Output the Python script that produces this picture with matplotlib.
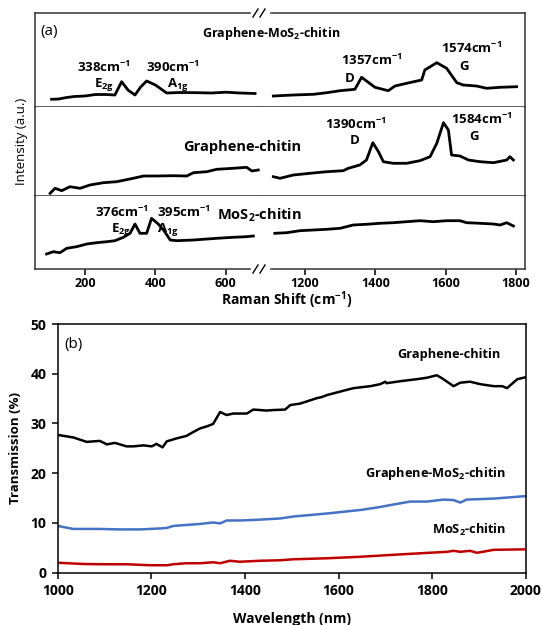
import numpy as np
import matplotlib.pyplot as plt

plt.rcParams['font.family'] = ['Open Sans', 'DejaVu Sans']
plt.rcParams['mathtext.fontset'] = 'custom'
plt.rcParams['mathtext.rm'] = 'Open Sans'
plt.rcParams['mathtext.bf'] = 'Open Sans:bold'
plt.rcParams['mathtext.it'] = 'Open Sans:italic'

# ---- (a) Raman spectra, low and high wavenumber parts ----
gm_low_x = [105, 125, 148, 170, 200, 230, 260, 285, 304, 322, 342, 358, 375, 400, 432, 470, 520, 560, 600, 640, 683]
gm_low_y = [7.7, 8.0, 9.5, 10.5, 11.0, 12.5, 12.5, 12.0, 25.3, 17.0, 12.0, 20.0, 26.0, 22.0, 14.0, 14.5, 14.3, 14.0, 14.8, 14.0, 13.5]
gm_high_x = [1110, 1167, 1224, 1262, 1300, 1342, 1361, 1399, 1437, 1456, 1489, 1532, 1541, 1575, 1603, 1632, 1650, 1688, 1717, 1755, 1802]
gm_high_y = [11.0, 12.0, 12.7, 14.3, 16.3, 17.7, 29.7, 19.7, 16.3, 21.0, 23.7, 27.0, 37.0, 44.3, 38.7, 24.3, 22.0, 21.0, 18.7, 19.7, 20.3]

gc_low_x = [101, 115, 134, 157, 186, 214, 252, 290, 337, 366, 404, 451, 489, 508, 546, 574, 621, 659, 674, 692]
gc_low_y = [2.7, 7.7, 5.3, 9.3, 7.7, 11.0, 13.3, 14.3, 17.7, 20.0, 20.0, 20.3, 20.0, 23.3, 24.3, 26.7, 27.7, 28.7, 25.0, 26.0]
gc_high_x = [1110, 1129, 1167, 1214, 1262, 1309, 1323, 1356, 1375, 1393, 1409, 1423, 1451, 1489, 1527, 1556, 1575, 1594,
             1608, 1617, 1641, 1665, 1698, 1736, 1774, 1783, 1793]
gc_high_y = [19.3, 17.7, 21.0, 22.7, 24.3, 25.3, 27.7, 31.0, 36.0, 53.3, 44.3, 34.3, 32.7, 32.7, 35.3, 39.3, 52.7, 73.3,
             66.0, 41.0, 40.0, 36.0, 34.3, 33.3, 36.0, 39.3, 36.0]

mc_low_x = [91, 110, 129, 148, 176, 205, 233, 262, 285, 309, 328, 342, 356, 375, 389, 408, 423, 442, 461, 508, 574, 621, 659, 678]
mc_low_y = [15.0, 17.3, 16.3, 20.7, 22.3, 25.0, 26.3, 27.3, 28.3, 31.7, 35.7, 45.0, 35.7, 35.7, 50.7, 45.0, 39.0, 29.0, 28.3,
            29.0, 30.7, 31.7, 32.3, 33.0]
mc_high_x = [1114, 1148, 1186, 1224, 1262, 1300, 1337, 1375, 1413, 1451, 1489, 1527, 1565, 1603, 1641, 1660, 1698, 1736,
             1755, 1774, 1793]
mc_high_y = [35.7, 36.3, 38.3, 39.0, 39.7, 40.7, 44.0, 44.7, 45.7, 46.3, 47.3, 48.3, 47.3, 48.3, 48.3, 46.3, 45.7, 45.0,
             44.0, 46.3, 43.0]

raman_rows = [
    (gm_low_x, gm_low_y, gm_high_x, gm_high_y),
    (gc_low_x, gc_low_y, gc_high_x, gc_high_y),
    (mc_low_x, mc_low_y, mc_high_x, mc_high_y),
]
row_ylim = [94, 89, 73]
low_ticks = [200, 400, 600]
high_ticks = [1200, 1400, 1600, 1800]

# ---- (b) transmission ----
wl_gc = [1000, 1033, 1062, 1090, 1105, 1122, 1133, 1147, 1162, 1183, 1201, 1211, 1224, 1233, 1254, 1275, 1290, 1304, 1318,
         1332, 1347, 1361, 1375, 1404, 1418, 1446, 1461, 1486, 1497, 1518, 1554, 1564, 1575, 1603, 1632, 1668, 1689, 1700,
         1703, 1732, 1767, 1789, 1810, 1821, 1846, 1860, 1881, 1903, 1932, 1950, 1960, 1982, 2000]
t_gc = [27.7, 27.2, 26.3, 26.5, 25.8, 26.1, 25.8, 25.4, 25.4, 25.6, 25.4, 25.9, 25.2, 26.4, 27.0, 27.5, 28.3, 29.0, 29.4,
        29.9, 32.3, 31.7, 32.0, 32.0, 32.8, 32.6, 32.7, 32.8, 33.7, 34.0, 35.1, 35.3, 35.7, 36.4, 37.1, 37.5, 37.9, 38.4,
        38.1, 38.5, 38.9, 39.2, 39.7, 39.1, 37.5, 38.2, 38.4, 37.9, 37.5, 37.5, 37.1, 38.9, 39.3]
wl_gm = [1000, 1033, 1090, 1133, 1176, 1219, 1233, 1247, 1275, 1304, 1332, 1347, 1361, 1389, 1418, 1475, 1504, 1575, 1646,
         1682, 1717, 1753, 1789, 1825, 1846, 1860, 1874, 1932, 2000]
t_gm = [9.4, 8.8, 8.8, 8.7, 8.7, 8.9, 9.0, 9.4, 9.6, 9.8, 10.1, 9.9, 10.5, 10.5, 10.6, 10.9, 11.3, 11.9, 12.6,
        13.1, 13.7, 14.3, 14.3, 14.7, 14.6, 14.1, 14.7, 14.9, 15.4]
wl_mc = [1000, 1055, 1090, 1147, 1197, 1233, 1247, 1275, 1304, 1332, 1347, 1368, 1389, 1432, 1475, 1504, 1575, 1646, 1717,
         1774, 1832, 1846, 1860, 1881, 1896, 1932, 2000]
t_mc = [2.0, 1.75, 1.7, 1.7, 1.5, 1.5, 1.7, 1.9, 1.9, 2.1, 1.9, 2.4, 2.2, 2.4, 2.5, 2.7, 2.9, 3.2, 3.6,
        3.9, 4.2, 4.4, 4.2, 4.4, 4.0, 4.6, 4.7]

W, H = 542, 625
fig = plt.figure(figsize=(W / 100, H / 100), dpi=100)


def fx(px):
    return px / W


def fy(py):
    return 1 - py / H


col_edges = [35, 260, 525]
row_edges = [13, 107, 196, 269]
lims = [(58, 697), (1072, 1826)]
axes = []
for r in range(3):
    row = []
    for c in range(2):
        ax = fig.add_axes([fx(col_edges[c]), fy(row_edges[r + 1]),
                           fx(col_edges[c + 1] - col_edges[c]), (row_edges[r + 1] - row_edges[r]) / H])
        lx, ly, hx, hy = raman_rows[r]
        if c == 0:
            ax.plot(lx, ly, color='black', lw=2.0)
        else:
            ax.plot(hx, hy, color='black', lw=2.0)
        ax.set_xlim(*lims[c])
        ax.set_ylim(0, row_ylim[r])
        ax.set_yticks([])
        for s in ax.spines.values():
            s.set_linewidth(1.1)
            s.set_color('#333333')
        ax.spines['right' if c == 0 else 'left'].set_visible(False)
        if r > 0:
            ax.spines['top'].set_visible(False)
        if r < 2:
            ax.tick_params(axis='x', length=0, labelbottom=False)
        else:
            ax.set_xticks(low_ticks if c == 0 else high_ticks)
            ax.tick_params(axis='x', length=4, width=1.1, direction='out', pad=2, labelsize=9)
            for t in ax.get_xticklabels():
                t.set_fontweight('bold')
        row.append(ax)
    axes.append(row)

# axis break marks
for py in (row_edges[0], row_edges[3]):
    fig.add_artist(plt.Line2D([fx(252), fx(268)], [fy(py), fy(py)], color='white', lw=2.5))
    for cx in (255.5, 262.5):
        fig.add_artist(plt.Line2D([fx(cx - 2.5), fx(cx + 2.5)], [fy(py + 4), fy(py - 4)], color='black', lw=1.0))

bold = dict(fontweight='bold', ha='center', va='center')
pk = 9.5
a0, a1 = axes[0]
b0, b1 = axes[1]
c0, c1 = axes[2]
a0.text(72, 75, '(a)', fontsize=11, ha='left', va='center')
a0.text(255, 40, r'$\mathbf{338cm^{-1}}$', fontsize=pk, **bold)
a0.text(254, 22, r'$\mathbf{E_{2g}}$', fontsize=pk, **bold)
a0.text(449, 40, r'$\mathbf{390cm^{-1}}$', fontsize=pk, **bold)
a0.text(463, 22, r'$\mathbf{A_{1g}}$', fontsize=pk, **bold)
a1.text(1389, 47, r'$\mathbf{1357cm^{-1}}$', fontsize=pk, **bold)
a1.text(1328, 28, 'D', fontsize=pk, **bold)
a1.text(1675, 59, r'$\mathbf{1574cm^{-1}}$', fontsize=pk, **bold)
a1.text(1652, 40, 'G', fontsize=pk, **bold)
b1.text(1345, 71.5, r'$\mathbf{1390cm^{-1}}$', fontsize=pk, **bold)
b1.text(1342, 55.5, 'D', fontsize=pk, **bold)
b1.text(1704, 77, r'$\mathbf{1584cm^{-1}}$', fontsize=pk, **bold)
b1.text(1681, 59, 'G', fontsize=pk, **bold)
c0.text(304, 57, r'$\mathbf{376cm^{-1}}$', fontsize=pk, **bold)
c0.text(302, 39, r'$\mathbf{E_{2g}}$', fontsize=pk, **bold)
c0.text(480, 57, r'$\mathbf{395cm^{-1}}$', fontsize=pk, **bold)
c0.text(434, 39, r'$\mathbf{A_{1g}}$', fontsize=pk, **bold)

fig.text(fx(271), fy(33), r'Graphene-MoS$_\mathbf{2}$-chitin', fontsize=9, **bold)
fig.text(fx(242), fy(147), 'Graphene-chitin', fontsize=10.5, **bold)
fig.text(fx(259), fy(215), r'MoS$_\mathbf{2}$-chitin', fontsize=10.5, **bold)
fig.text(fx(22), fy(141), 'Intensity (a.u.)', fontsize=9.5, rotation=90, ha='center', va='center')
fig.text(fx(287), fy(300), r'Raman Shift (cm$^\mathbf{-1}$)', fontsize=10, **bold)

# ---- (b) ----
ax = fig.add_axes([fx(57.7), fy(572.7), fx(525.7 - 57.7), (572.7 - 324) / H])
ax.plot(wl_gc, t_gc, color='black', lw=1.8)
ax.plot(wl_gm, t_gm, color='#4472C4', lw=1.8)
ax.plot(wl_mc, t_mc, color='#C00000', lw=1.8)
ax.set_xlim(1000, 2000)
ax.set_ylim(0, 50)
ax.set_xticks([1000, 1200, 1400, 1600, 1800, 2000])
ax.set_yticks([0, 10, 20, 30, 40, 50])
ax.tick_params(length=4, width=1.1, direction='out', labelsize=10, pad=4)
for t in ax.get_xticklabels() + ax.get_yticklabels():
    t.set_fontweight('bold')
for s in ax.spines.values():
    s.set_linewidth(1.1)
ax.set_xlabel('Wavelength (nm)', fontsize=10, fontweight='bold', labelpad=10)
ax.set_ylabel('Transmission (%)', fontsize=9.5, fontweight='bold', labelpad=6)
ax.text(1015, 45.8, '(b)', fontsize=11, ha='left', va='center')
ax.text(1836, 43.9, 'Graphene-chitin', fontsize=9.2, **bold)
ax.text(1808, 20.0, r'Graphene-MoS$_\mathbf{2}$-chitin', fontsize=9.2, **bold)
ax.text(1879, 8.6, r'MoS$_\mathbf{2}$-chitin', fontsize=9.2, **bold)

fig.savefig('out.png', dpi=100)
